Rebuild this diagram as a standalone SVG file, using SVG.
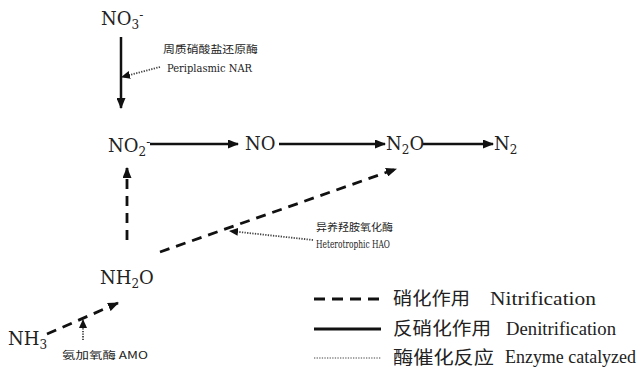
<svg xmlns="http://www.w3.org/2000/svg" width="644" height="372" viewBox="0 0 644 372">
<style>
.n{font-family:"DejaVu Serif","Liberation Serif",serif;font-size:18px;fill:#222}
.s{font-size:12px}
.lbl{font-family:"Noto Sans CJK SC",sans-serif;font-size:10px;fill:#222}
.lble{font-family:"DejaVu Serif","Liberation Serif",serif;font-size:10.5px;fill:#222}
.lg{font-family:"Noto Sans CJK SC",sans-serif;font-size:18px;fill:#222}
.lge{font-family:"Liberation Serif","DejaVu Serif",serif;font-size:18px;fill:#222}
.sol{stroke:#111;stroke-width:2.5;fill:none}
.das{stroke:#111;stroke-width:2.8;fill:none;stroke-dasharray:10 7}
.dot{stroke:#444;stroke-width:1.8;fill:none;stroke-dasharray:1.3 1.3}
</style>
<defs>
<marker id="ah" markerUnits="userSpaceOnUse" markerWidth="11" markerHeight="9" refX="10" refY="4.5" orient="auto"><path d="M0,0 L11,4.5 L0,9 z" fill="#111"/></marker>
<marker id="ahs" markerUnits="userSpaceOnUse" markerWidth="9" markerHeight="8" refX="8" refY="4" orient="auto"><path d="M0,0 L9,4 L0,8 z" fill="#111"/></marker>
</defs>
<g id="connectors">
<path class="sol" d="M121,37 L121,108" marker-end="url(#ah)"/>
<path class="sol" d="M150,144 L238,144" marker-end="url(#ah)"/>
<path class="sol" d="M279,144 L385,144" marker-end="url(#ah)"/>
<path class="sol" d="M423,144 L493,144" marker-end="url(#ah)"/>
<path class="das" d="M127,240 L127,168" marker-end="url(#ah)"/>
<path class="das" d="M160,252 L396,169" marker-end="url(#ah)"/>
<path class="das" d="M47,334 L118,303" marker-end="url(#ah)"/>
<path class="dot" d="M160,67 L122,77" marker-end="url(#ahs)"/>
<path class="dot" d="M313,240 L230,231" marker-end="url(#ahs)"/>
<path class="dot" d="M83,340 L83,320" marker-end="url(#ahs)"/>
</g>
<g id="no3"><text class="n" x="101" y="25">NO<tspan class="s" dy="4">3</tspan><tspan class="s" dy="-10">-</tspan></text></g>
<g id="no2"><text class="n" x="108" y="152">NO<tspan class="s" dy="4">2</tspan><tspan class="s" dy="-10">-</tspan></text></g>
<g id="no"><text class="n" x="245" y="150">NO</text></g>
<g id="n2o"><text class="n" x="386" y="150">N<tspan class="s" dy="4">2</tspan><tspan dy="-4">O</tspan></text></g>
<g id="n2"><text class="n" x="494" y="150">N<tspan class="s" dy="4">2</tspan></text></g>
<g id="nh2o"><text class="n" x="100" y="284">NH<tspan class="s" dy="4">2</tspan><tspan dy="-4">O</tspan></text></g>
<g id="nh3"><text class="n" x="8" y="345">NH<tspan class="s" dy="4">3</tspan></text></g>
<g id="nar">
<text class="lbl" x="163" y="53" textLength="95" lengthAdjust="spacingAndGlyphs">周质硝酸盐还原酶</text>
<text class="lble" x="167" y="72" textLength="85" lengthAdjust="spacingAndGlyphs">Periplasmic NAR</text>
</g>
<g id="hao">
<text class="lbl" x="316" y="231" textLength="77" lengthAdjust="spacingAndGlyphs">异养羟胺氧化酶</text>
<text class="lble" x="316" y="248" textLength="74" lengthAdjust="spacingAndGlyphs">Heterotrophic HAO</text>
</g>
<g id="amo">
<text class="lbl" x="62" y="359" textLength="86" lengthAdjust="spacingAndGlyphs">氨加氧酶 AMO</text>
</g>
<g id="legend">
<path class="das" d="M314,299 L381,299" style="stroke-dasharray:11 7"/>
<path class="sol" d="M314,329 L381,329" style="stroke-width:3"/>
<path class="dot" d="M314,358 L381,358" style="stroke-width:1.2"/>
<text class="lg" x="393" y="305" textLength="77" lengthAdjust="spacingAndGlyphs">硝化作用</text>
<text class="lge" x="490" y="305" textLength="106" lengthAdjust="spacingAndGlyphs">Nitrification</text>
<text class="lg" x="393" y="335" textLength="98" lengthAdjust="spacingAndGlyphs">反硝化作用</text>
<text class="lge" x="506" y="335" textLength="110" lengthAdjust="spacingAndGlyphs">Denitrification</text>
<text class="lg" x="393" y="364" textLength="101" lengthAdjust="spacingAndGlyphs">酶催化反应</text>
<text class="lge" x="505" y="363" textLength="131" lengthAdjust="spacingAndGlyphs">Enzyme catalyzed</text>
</g>
</svg>
